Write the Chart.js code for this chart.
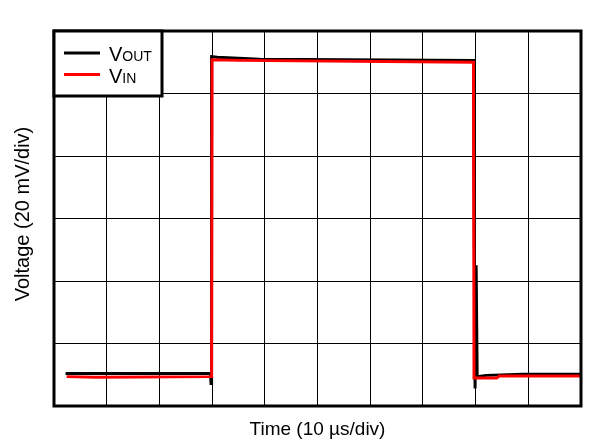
<!DOCTYPE html>
<html>
<head>
<meta charset="utf-8">
<script src="https://cdn.jsdelivr.net/npm/chart.js@4.4.1/dist/chart.umd.min.js"></script>
<style>
  html, body { margin: 0; padding: 0; background: #fff; }
  #wrap { width: 592px; height: 448px; }
</style>
</head>
<body>
<div id="wrap"><canvas id="scope" width="592" height="448"></canvas></div>
<script>
// Time in divisions (10 us/div), voltage in divisions (20 mV/div)
const vinTime  = [0.24, 0.8, 2.99, 3.0, 3.5, 7.96, 7.97, 8.4, 8.45, 9.98];
const vinVolt  = [0.47, 0.46, 0.47, 5.54, 5.53, 5.50, 0.45, 0.45, 0.48, 0.48];
const voutTime = [0.22, 2.97, 2.98, 2.99, 3.1, 3.9, 7.96, 7.99, 8.01, 8.03, 8.2, 8.9, 9.98];
const voutVolt = [0.52, 0.52, 0.36, 5.59, 5.58, 5.55, 5.53, 0.28, 2.25, 0.47, 0.49, 0.51, 0.51];
const xDivs = 10;
const yDivs = 6;

const FONT = "'Liberation Sans', Arial, sans-serif";

function toPoints(ts, vs) {
  return ts.map((t, i) => ({ x: t, y: vs[i] }));
}

// frame, legend box and axis titles
const scopeDecor = {
  id: 'scopeDecor',
  afterDraw(chart) {
    const { ctx, chartArea: a } = chart;
    ctx.save();
    ctx.strokeStyle = '#000';
    ctx.lineWidth = 3;
    ctx.strokeRect(a.left, a.top, a.right - a.left, a.bottom - a.top);

    // legend
    ctx.fillStyle = '#fff';
    ctx.fillRect(a.left, a.top, 108, 65);
    ctx.strokeRect(a.left, a.top, 108, 65);
    const items = [
      { color: '#000', main: 'V', sub: 'OUT', y: 22 },
      { color: '#ff0000', main: 'V', sub: 'IN', y: 43.5 }
    ];
    items.forEach(it => {
      ctx.beginPath();
      ctx.strokeStyle = it.color;
      ctx.lineWidth = 3;
      ctx.moveTo(a.left + 10, a.top + it.y);
      ctx.lineTo(a.left + 46, a.top + it.y);
      ctx.stroke();
      ctx.fillStyle = '#000';
      ctx.textBaseline = 'alphabetic';
      ctx.font = '20px ' + FONT;
      ctx.fillText(it.main, a.left + 55, a.top + it.y + 8);
      const w = ctx.measureText(it.main).width;
      ctx.font = '14px ' + FONT;
      ctx.fillText(it.sub, a.left + 55 + w, a.top + it.y + 8);
    });

    // axis titles
    ctx.fillStyle = '#000';
    ctx.font = '19px ' + FONT;
    ctx.textAlign = 'center';
    ctx.fillText('Time (10 µs/div)', (a.left + a.right) / 2, 435);
    ctx.font = '20px ' + FONT;
    ctx.translate(29, 214);
    ctx.rotate(-Math.PI / 2);
    ctx.fillText('Voltage (20 mV/div)', 0, 0);
    ctx.restore();
  }
};

new Chart(document.getElementById('scope').getContext('2d'), {
  type: 'line',
  data: {
    datasets: [
      {
        label: 'VIN',
        data: toPoints(vinTime, vinVolt),
        borderColor: '#ff0000',
        borderWidth: 3,
        pointRadius: 0,
        tension: 0
      },
      {
        label: 'VOUT',
        data: toPoints(voutTime, voutVolt),
        borderColor: '#000000',
        borderWidth: 3,
        pointRadius: 0,
        tension: 0
      }
    ]
  },
  options: {
    responsive: false,
    animation: false,
    layout: { padding: { top: 31, right: 11, left: 0, bottom: 0 } },
    plugins: {
      legend: { display: false },
      tooltip: { enabled: false }
    },
    scales: {
      x: {
        type: 'linear',
        min: 0,
        max: xDivs,
        ticks: { display: false, stepSize: 1 },
        grid: { color: '#000', lineWidth: 1, drawTicks: false },
        border: { display: false },
        afterFit: s => { s.height = 42; }
      },
      y: {
        type: 'linear',
        min: 0,
        max: yDivs,
        ticks: { display: false, stepSize: 1 },
        grid: { color: '#000', lineWidth: 1, drawTicks: false },
        border: { display: false },
        afterFit: s => { s.width = 54; }
      }
    }
  },
  plugins: [scopeDecor]
});
</script>
</body>
</html>
